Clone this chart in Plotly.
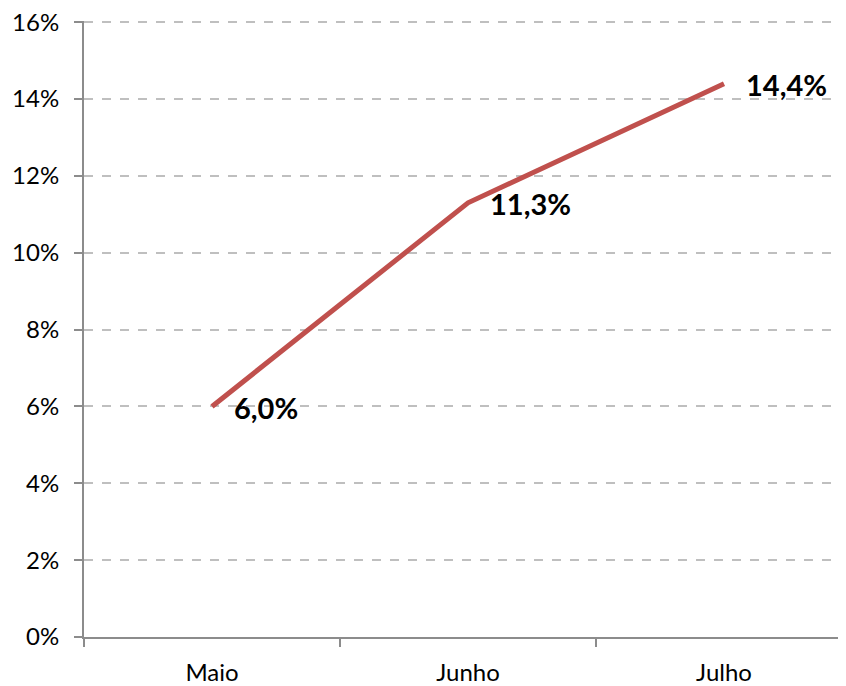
import plotly.graph_objects as go

months = ["Maio", "Junho", "Julho"]
values = [6.0, 11.3, 14.4]
y_ticks = [0, 2, 4, 6, 8, 10, 12, 14, 16]
y_tick_text = [f"{v}%" for v in y_ticks]
labels = [f"{v:.1f}".replace(".", ",") + "%" for v in values]

fig = go.Figure()
fig.add_trace(go.Scatter(
    x=months, y=values, mode="lines",
    line=dict(color="#C0504D", width=5),
    hoverinfo="skip", showlegend=False,
))

for m, v, t in zip(months, values, labels):
    fig.add_annotation(
        x=m, y=v, text=f"<b>{t}</b>", showarrow=False,
        xanchor="left", yanchor="middle", xshift=20, yshift=-1,
        font=dict(family="Lato", size=29, color="#000000"),
    )

# page body has an 8px default margin, so compensate in the figure margins
fig.update_layout(
    width=846, height=686,
    margin=dict(l=76, r=8, t=13, b=57, autoexpand=False),
    paper_bgcolor="white", plot_bgcolor="white",
    font=dict(family="Lato", size=24, color="#000000"),
)
fig.update_xaxes(
    type="category", range=[-0.5, -0.5 + 762 / 256], automargin=False,
    showgrid=False, showline=True, linecolor="#8C8C8C", linewidth=2,
    ticks="outside", tickson="boundaries", ticklen=8, tickwidth=2,
    tickcolor="#8C8C8C", ticklabelstandoff=13,
)
fig.update_yaxes(
    range=[0, y_ticks[-1] * 1.002], tickvals=y_ticks, ticktext=y_tick_text,
    automargin=False, ticklabeloverflow="allow",
    showgrid=True, gridcolor="#BFBFBF", gridwidth=1.5, griddash="dash",
    zeroline=False, showline=True, linecolor="#8C8C8C", linewidth=2,
    ticks="outside", ticklen=8, tickwidth=2, tickcolor="#8C8C8C",
    ticklabelstandoff=10,
)

fig.write_html("out.html")
